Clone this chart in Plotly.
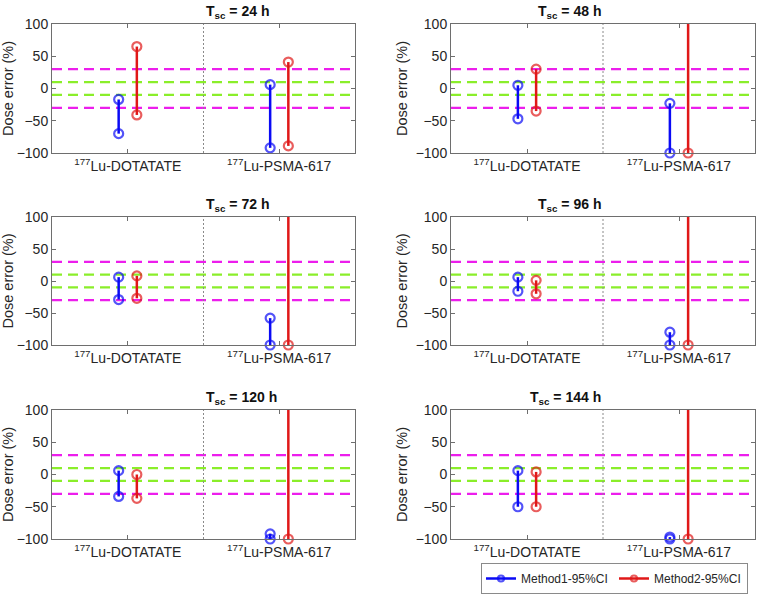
import plotly.graph_objects as go

W, H = 757, 595

categories = ["<sup>177</sup>Lu-DOTATATE", "<sup>177</sup>Lu-PSMA-617"]
scan_times = [24, 48, 72, 96, 120, 144]

# 95% CI bounds [low, high] per scan time, per category; 300 = off the top of the axis
m1_dotatate = [[-70, -17], [-47, 5], [-29, 6], [-16, 6], [-34, 6], [-50, 6]]
m1_psma = [[-92, 6], [-100, -23], [-100, -58], [-100, -80], [-100, -92], [-100, -97]]
m2_dotatate = [[-41, 65], [-35, 30], [-27, 8], [-20, 1], [-37, 0], [-50, 4]]
m2_psma = [[-89, 41], [-100, 300], [-100, 300], [-100, 300], [-100, 300], [-100, 300]]

limits_inner = [-10, 10]
limits_outer = [-30, 30]

BLUE = "#0a0af5"
RED = "#e01818"
GREEN = "#8aee2a"
MAGENTA = "#ec1eec"
AXIS = "#6e6e6e"
TEXT = "#262626"
FONT = "Liberation Sans"

# panel boxes in pixels: (left, right, top, bottom)
cols_px = [(52, 355), (451, 755)]
rows_px = [(24, 153), (217, 345), (410, 539)]

fig = go.Figure()
offset = 0.06

for i, t in enumerate(scan_times):
    r, c = divmod(i, 2)
    n = i + 1
    xa = "x" if n == 1 else f"x{n}"
    ya = "y" if n == 1 else f"y{n}"
    for name, color, sign, dot, psma in [
        ("Method1-95%CI", BLUE, -1, m1_dotatate, m1_psma),
        ("Method2-95%CI", RED, 1, m2_dotatate, m2_psma),
    ]:
        xs, ys, sizes = [], [], []
        for k, ci in enumerate([dot[i], psma[i]]):
            xpos = k + 1 + sign * offset
            for v in ci:
                xs.append(xpos)
                ys.append(v)
                sizes.append(9 if -100 <= v <= 100 else 0)
            xs.append(None)
            ys.append(None)
            sizes.append(0)
        fig.add_trace(
            go.Scatter(
                x=xs,
                y=ys,
                mode="lines+markers",
                name=name,
                legendgroup=name,
                showlegend=(i == 0),
                line={"color": color, "width": 2.5},
                marker={"symbol": "circle-open", "size": sizes, "color": color, "line": {"width": 2.2}},
                cliponaxis=False,
                xaxis=xa,
                yaxis=ya,
            )
        )

    x0, x1 = cols_px[c]
    y0, y1 = rows_px[r]
    xdom = [x0 / W, x1 / W]
    ydom = [1 - y1 / H, 1 - y0 / H]
    axis_common = dict(
        automargin=False,
        showline=True,
        linecolor=AXIS,
        linewidth=1,
        mirror="ticks",
        ticks="inside",
        ticklen=4,
        tickcolor=AXIS,
        showgrid=False,
        zeroline=False,
        tickfont={"family": FONT, "size": 14, "color": TEXT},
    )
    fig.layout[f"xaxis{n if n > 1 else ''}"] = dict(
        domain=xdom,
        range=[0.5, 2.5],
        tickvals=[1, 2],
        ticktext=categories,
        anchor=ya,
        **axis_common,
    )
    fig.layout[f"yaxis{n if n > 1 else ''}"] = dict(
        domain=ydom,
        range=[-100, 100],
        tickvals=[-100, -50, 0, 50, 100],
        anchor=xa,
        title={"text": "Dose error (%)", "font": {"family": FONT, "size": 14.5, "color": TEXT}, "standoff": 4},
        **axis_common,
    )

    for v in limits_outer:
        fig.add_shape(type="line", xref=f"{xa} domain", yref=ya, x0=0, x1=1, y0=v, y1=v,
                      line={"color": MAGENTA, "width": 2.2, "dash": "10px,6px"}, layer="below")
    for v in limits_inner:
        fig.add_shape(type="line", xref=f"{xa} domain", yref=ya, x0=0, x1=1, y0=v, y1=v,
                      line={"color": GREEN, "width": 2.2, "dash": "10px,6px"}, layer="below")
    fig.add_shape(type="line", xref=xa, yref=f"{ya} domain", x0=1.5, x1=1.5, y0=0, y1=1,
                  line={"color": "#8a8a8a", "width": 1, "dash": "2px,2px"}, layer="below")

    fig.add_annotation(
        x=(xdom[0] + xdom[1]) / 2,
        y=ydom[1],
        xref="paper",
        yref="paper",
        yanchor="bottom",
        yshift=1,
        showarrow=False,
        text=f"<b>T<sub>sc</sub> = {t} h</b>",
        font={"family": FONT, "size": 14, "color": "#111111"},
    )

fig.update_layout(
    width=W,
    height=H,
    margin={"l": 0, "r": 0, "t": 0, "b": 0},
    paper_bgcolor="white",
    plot_bgcolor="white",
    showlegend=True,
    legend={
        "orientation": "h",
        "x": 481 / W,
        "xanchor": "left",
        "y": 1 / H,
        "yanchor": "bottom",
        "bordercolor": "#8a8a8a",
        "borderwidth": 1,
        "bgcolor": "white",
        "font": {"family": FONT, "size": 12, "color": TEXT},
        "entrywidth": 88,
        "entrywidthmode": "pixels",
        "tracegroupgap": 0,
    },
)

# drop the page's default body margin so the figure sits at the window's corner
fig.write_html(
    "out.html",
    config={"displayModeBar": False},
    post_script="document.body.style.margin = '0';",
)
